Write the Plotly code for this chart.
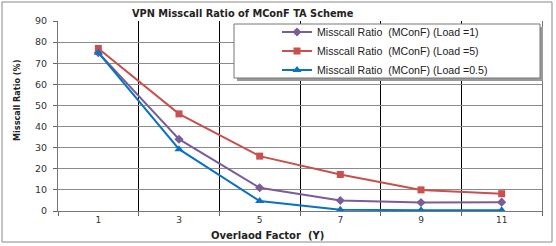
import plotly.graph_objects as go

categories = ["1", "3", "5", "7", "9", "11"]
load_1 = [75, 34, 11, 5, 4, 4.2]
load_5 = [77, 46, 26, 17.3, 10, 8.2]
load_05 = [75, 29.3, 4.7, 0.6, 0.4, 0.4]
y_ticks = [0, 10, 20, 30, 40, 50, 60, 70, 80, 90]

FONT = "Arial, Liberation Sans, sans-serif"
WIDE = "DejaVu Sans, sans-serif"
NARROW = "Liberation Sans Narrow, DejaVu Sans Condensed, Arial, sans-serif"

fig = go.Figure()
fig.add_trace(go.Scatter(x=categories, y=load_1, mode="lines+markers",
                         name="Misscall Ratio  (MConF) (Load =1)",
                         line=dict(color="#7a5c98", width=2),
                         marker=dict(symbol="diamond", size=7, color="#7a5c98")))
fig.add_trace(go.Scatter(x=categories, y=load_5, mode="lines+markers",
                         name="Misscall Ratio  (MConF) (Load =5)",
                         line=dict(color="#c9504d", width=2),
                         marker=dict(symbol="square", size=7, color="#c9504d")))
fig.add_trace(go.Scatter(x=categories, y=load_05, mode="lines+markers",
                         name="Misscall Ratio  (MConF) (Load =0.5)",
                         line=dict(color="#0a72c4", width=2),
                         marker=dict(symbol="triangle-up", size=8, color="#0a72c4")))

L, R, T, B = 58, 14, 21, 35
W, H = 556, 246
pw, ph = W - L - R, H - T - B

def px(x):
    return (x - L) / pw

def py(y):
    return (H - B - y) / ph

fig.update_layout(
    width=W, height=H,
    margin=dict(l=L, r=R, t=T, b=B, autoexpand=False),
    paper_bgcolor="white", plot_bgcolor="white",
    font=dict(family=FONT, size=10, color="#333333"),
    showlegend=True,
    legend=dict(x=px(277), y=py(51), xanchor="left", yanchor="middle",
                bgcolor="rgba(0,0,0,0)", borderwidth=0,
                font=dict(family=FONT, size=10.6, color="#222222"),
                tracegroupgap=0),
    xaxis=dict(type="category", tickson="boundaries", showgrid=True,
               range=[-0.5, len(categories) - 0.5],
               gridcolor="#000000", gridwidth=1, ticks="outside", ticklen=4,
               tickcolor="#666666", showline=True, linecolor="#777777",
               automargin=False,
               tickfont=dict(family=WIDE, size=9, color="#333333")),
    yaxis=dict(range=[0, 90], tickvals=y_ticks, showgrid=True,
               gridcolor="#8a8a8a", gridwidth=1, ticks="outside", ticklen=4,
               ticklabelstandoff=4,
               tickcolor="#666666", showline=True, linecolor="#777777",
               mirror=True, zeroline=False, automargin=False,
               tickfont=dict(family=WIDE, size=9.5, color="#333333")),
    annotations=[
        dict(text="<b>VPN Misscall Ratio of MConF TA Scheme</b>",
             xref="paper", yref="paper", x=px(243), y=py(13),
             xanchor="center", yanchor="middle", showarrow=False,
             font=dict(family=WIDE, size=9.8, color="#222222")),
        dict(text="<b>Overlaod Factor  (Y)</b>",
             xref="paper", yref="paper", x=px(267), y=py(235),
             xanchor="center", yanchor="middle", showarrow=False,
             font=dict(family=WIDE, size=10, color="#222222")),
        dict(text="<b>Misscall Ratio (%)</b>", textangle=-90,
             xref="paper", yref="paper", x=px(17), y=py(101),
             xanchor="center", yanchor="middle", showarrow=False,
             font=dict(family=NARROW, size=9, color="#222222")),
    ],
    shapes=[
        dict(type="rect", xref="paper", yref="paper",
             x0=px(2), x1=px(552), y0=py(242), y1=py(2),
             line=dict(color="#888888", width=1), layer="below"),
        dict(type="rect", xref="paper", yref="paper",
             x0=px(237), x1=px(543), y0=py(81), y1=py(27),
             fillcolor="#9a9a9a", line=dict(width=0), layer="above"),
        dict(type="rect", xref="paper", yref="paper",
             x0=px(234), x1=px(540), y0=py(78), y1=py(24),
             fillcolor="white", line=dict(color="#777777", width=1),
             layer="above"),
    ],
)

fig.write_html("out.html", config={"displayModeBar": False},
               post_script="document.body.style.margin='0';document.body.style.padding='0';")
